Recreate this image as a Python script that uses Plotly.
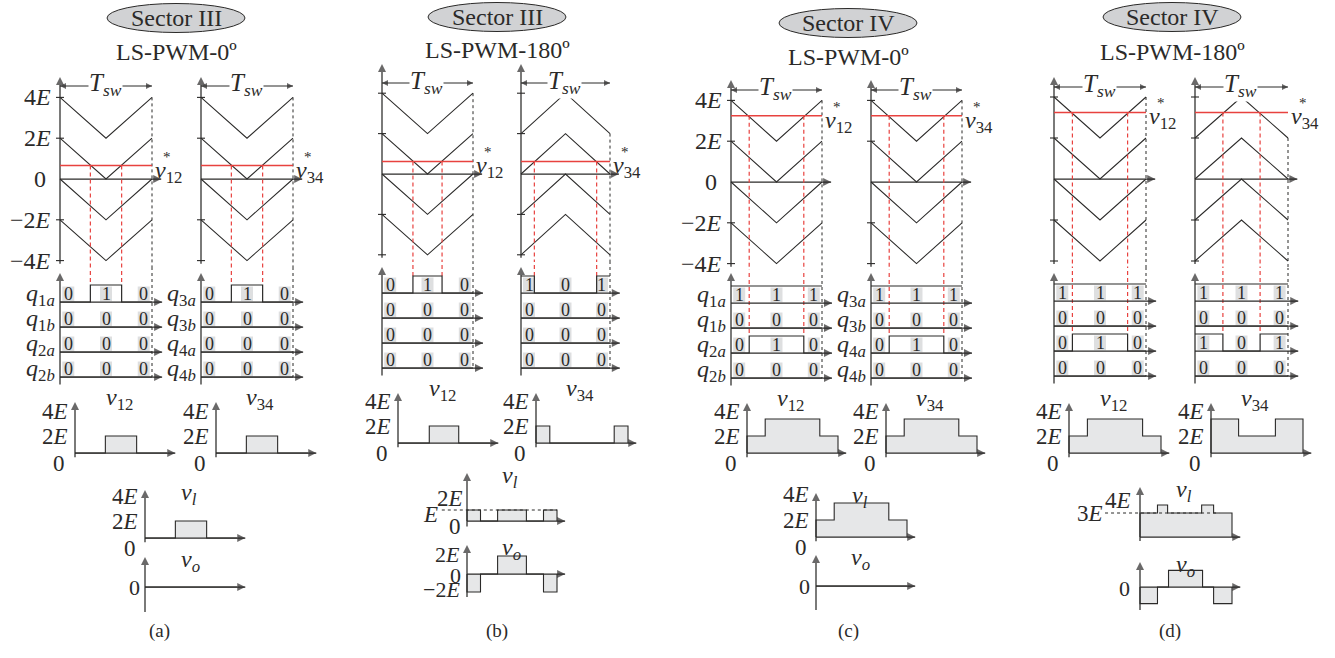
import plotly.graph_objects as go

FIG_W, FIG_H = 1335, 658
SERIF = "Liberation Serif"
INK = "#2b2a29"
RED = "#e8423f"
SHADE = "#e6e7e8"
TAG_BG = "#dedfe0"
ELLIPSE_BG = "#d1d2d4"

# ---------------- waveform data (voltage in units of E, time in units of Tsw) ----------------
case_tags = ["(a)", "(b)", "(c)", "(d)"]
sector_names = ["Sector III", "Sector III", "Sector IV", "Sector IV"]
scheme_names = ["LS-PWM-0º", "LS-PWM-180º", "LS-PWM-0º", "LS-PWM-180º"]

carrier_bands = [[2, 4], [0, 2], [-2, 0], [-4, -2]]
carrier_shift = [[0, 0], [0, 180], [0, 0], [0, 180]]
level_ticks = [4, 2, -2, -4]
level_values = [4, 2, 0, -2, -4]
level_labels = ["4<i>E</i>", "2<i>E</i>", "0", "−2<i>E</i>", "−4<i>E</i>"]

v_ref = [0.66, 0.62, 3.25, 3.25]
edges_12 = [[0.33, 0.67], [0.34, 0.66], [0.2, 0.8], [0.2, 0.8]]
edges_34 = [[0.33, 0.67], [0.15, 0.85], [0.2, 0.8], [0.3, 0.7]]

gates_12 = [
    [[0, 1, 0], [0, 0, 0], [0, 0, 0], [0, 0, 0]],
    [[0, 1, 0], [0, 0, 0], [0, 0, 0], [0, 0, 0]],
    [[1, 1, 1], [0, 0, 0], [0, 1, 0], [0, 0, 0]],
    [[1, 1, 1], [0, 0, 0], [0, 1, 0], [0, 0, 0]],
]
gates_34 = [
    [[0, 1, 0], [0, 0, 0], [0, 0, 0], [0, 0, 0]],
    [[1, 0, 1], [0, 0, 0], [0, 0, 0], [0, 0, 0]],
    [[1, 1, 1], [0, 0, 0], [0, 1, 0], [0, 0, 0]],
    [[1, 1, 1], [0, 0, 0], [1, 0, 1], [0, 0, 0]],
]
gate_names_12 = ["1<i>a</i>", "1<i>b</i>", "2<i>a</i>", "2<i>b</i>"]
gate_names_34 = ["3<i>a</i>", "3<i>b</i>", "4<i>a</i>", "4<i>b</i>"]
digit_at = [0.09, 0.5, 0.91]

v12_levels = [[0, 2, 0], [0, 2, 0], [2, 4, 2], [2, 4, 2]]
v34_levels = [[0, 2, 0], [2, 0, 2], [2, 4, 2], [4, 2, 4]]
out_tick_vals = [4, 2, 0]
out_tick_text = ["4<i>E</i>", "2<i>E</i>", "0"]

vl_times = [[0, 0.33, 0.67, 1], [0, 0.15, 0.34, 0.66, 0.85, 1],
            [0, 0.2, 0.8, 1], [0, 0.19, 0.3, 0.67, 0.8, 1]]
vl_levels = [[0, 2, 0], [1, 0, 1, 0, 1], [2, 4, 2], [3, 4, 3, 4, 3]]
vl_tick_vals = [[4, 2, 0], [2, 1, 0], [4, 2, 0], [4, 3]]
vl_tick_text = [["4<i>E</i>", "2<i>E</i>", "0"], ["2<i>E</i>", "<i>E</i>", "0"],
                ["4<i>E</i>", "2<i>E</i>", "0"], ["4<i>E</i>", "3<i>E</i>"]]
vl_guide = [None, 1, None, 3]

vo_times = [[0, 1], [0, 0.15, 0.34, 0.66, 0.85, 1], [0, 1], [0, 0.19, 0.31, 0.68, 0.8, 1]]
vo_levels = [[0], [-2, 0, 2, 0, -2], [0], [-2, 0, 2, 0, -2]]
vo_tick_vals = [[0], [2, 0, -2], [0], [0]]
vo_tick_text = [["0"], ["2<i>E</i>", "0", "−2<i>E</i>"], ["0"], ["0"]]

# ---------------- layout geometry (pixels) ----------------
carrier_x0 = [[60, 201], [382, 521], [731, 871], [1054, 1195]]
carrier_w = [[92, 92], [91, 89], [91, 91], [92, 93]]
carrier_zero = [179, 174, 182, 179]
carrier_unit = [20.4, 20.2, 20.4, 20.5]
carrier_arrow = [77, 64, 80, 77]
tsw_y = [86, 83, 90, 87]
split_y = [268, 262, 270, 268]
gate_row1 = [302, 293, 303, 301]
gate_arrow = [273, 267, 273, 273]
gate_pitch = 25
gate_high = 0.68

out_x0 = [[75, 216], [398, 536], [747, 886], [1069, 1211]]
out_w = [92, 92, 91, 92]
out_zero = [453, 443, 453, 453]
out_unit = 8.5
out_arrow = [402, 393, 403, 403]
out_shift = [(-5, 8), (-5, 0), (-8, -10)]

vl_x0 = [145, 467, 816, 1140]
vl_w = [92, 90, 91, 92]
vl_zero = [538, 521, 537, 537]
vl_unit = [8.5, 11, 8.5, 8.0]
vl_arrow = [490, 473, 493, 487]
vl_shift = [[(-5, 8), (-5, 0), (-7, -10)], [(-2, 1), (-27, -4), (-4, -5)],
            [(-5, 8), (-5, 0), (-7, -10)], [(-7, 5), (-35, 0)]]
vl_guide_span = [None, (-0.28, 1.0), None, (-0.38, 0.86)]

vo_zero = [587, 574, 586, 587]
vo_unit = [8.5, 9.0, 8.5, 8.3]
vo_arrow = [557, 545, 555, 562]
vo_bottom = [612, 597, 610, 610]
vo_shift = [[(-3, 0)], [(-5, 2), (-4, -1), (-5, 3)], [(-4, 0)], [(-8, -1)]]

title_cx = [176, 497, 848, 1172]
ellipse_cy = [18, 17, 23, 17]
scheme_y = [52, 50, 57, 52]
caption_x = [159, 497, 848, 1170]
caption_y = 631

fig = go.Figure()
axes_layout = {}
shapes = []
axis_counter = [0]


def add_axes(px_l, px_r, px_t, px_b, x_org, x_unit, y_org, y_unit):
    """Create an invisible x/y axis pair whose data units map onto the given pixel box."""
    axis_counter[0] += 1
    k = axis_counter[0]
    s = "" if k == 1 else str(k)
    axes_layout["xaxis" + s] = dict(
        domain=[px_l / FIG_W, px_r / FIG_W],
        range=[(px_l - x_org) / x_unit, (px_r - x_org) / x_unit],
        visible=False, fixedrange=True, anchor="y" + s)
    axes_layout["yaxis" + s] = dict(
        domain=[1 - px_b / FIG_H, 1 - px_t / FIG_H],
        range=[(y_org - px_b) / y_unit, (y_org - px_t) / y_unit],
        visible=False, fixedrange=True, anchor="x" + s)
    return ("x" + s, "y" + s)


def line(ax, xs, ys, color=INK, width=1.1, dash=None):
    fig.add_trace(go.Scatter(
        x=xs, y=ys, xaxis=ax[0], yaxis=ax[1], mode="lines",
        line=dict(color=color, width=width, dash=dash),
        hoverinfo="skip", showlegend=False))


def area(ax, times, levels):
    xs, ys = [times[0]], [0]
    for j, lv in enumerate(levels):
        xs += [times[j], times[j + 1]]
        ys += [lv, lv]
    xs.append(times[-1])
    ys.append(0)
    fig.add_trace(go.Scatter(
        x=xs, y=ys, xaxis=ax[0], yaxis=ax[1], mode="lines", fill="toself",
        fillcolor=SHADE, line=dict(color=INK, width=1.1),
        hoverinfo="skip", showlegend=False))


def arrow(ax, x0, y0, x1, y1, size=8, width=1.25):
    """Axis line ending in a filled arrowhead whose tip sits on (x1, y1)."""
    if x1 > x0:
        sym = "arrow-right"
    elif x1 < x0:
        sym = "arrow-left"
    elif y1 > y0:
        sym = "arrow-up"
    else:
        sym = "arrow-down"
    fig.add_trace(go.Scatter(
        x=[x0, x1], y=[y0, y1], xaxis=ax[0], yaxis=ax[1], mode="lines+markers",
        line=dict(color=INK, width=width),
        marker=dict(symbol=sym, size=[0, size], color=INK, line=dict(width=0)),
        cliponaxis=False, hoverinfo="skip", showlegend=False))


def label(ax, x, y, s, size=22, xanchor="center", yanchor="middle",
          xshift=0, yshift=0, bg=None):
    kw = dict(xref=ax[0], yref=ax[1], x=x, y=y, text=s, showarrow=False,
              font=dict(family=SERIF, size=size, color=INK),
              xanchor=xanchor, yanchor=yanchor, xshift=xshift, yshift=yshift)
    if bg:
        kw.update(bgcolor=bg, borderpad=0)
    fig.add_annotation(**kw)


def carrier_panel(p, side, edges, gates, sub):
    x0, w = carrier_x0[p][side], carrier_w[p][side]
    z, u = carrier_zero[p], carrier_unit[p]
    ax = add_axes(x0 - 14, x0 + w + 14, carrier_arrow[p] - 6, split_y[p], x0, w, z, u)
    y_bottom = (z - split_y[p]) / u
    shift = carrier_shift[p][side]
    for lo, hi in carrier_bands:
        ys = [hi, lo, hi] if shift == 0 else [lo, hi, lo]
        line(ax, [0, 0.5, 1], ys, width=1.05)
    arrow(ax, 0, -4.15, 0, (z - carrier_arrow[p]) / u)
    arrow(ax, 0, 0, 1.1, 0)
    for lv in level_ticks:
        line(ax, [-4 / w, 4 / w], [lv, lv], width=1.1)
    end_level = 4 if shift == 0 else 2
    line(ax, [1, 1], [end_level, y_bottom - 1], width=1, dash="dot")
    vr = v_ref[p]
    line(ax, [0, 1], [vr, vr], color=RED, width=1.5)
    for e in edges:
        line(ax, [e, e], [vr, y_bottom - 1], color=RED, width=1.2, dash="4px,3px")
    # switching period dimension
    ty = (z - tsw_y[p]) / u
    arrow(ax, 0.5, ty, 0, ty, size=6, width=1.0)
    arrow(ax, 0.5, ty, 1, ty, size=6, width=1.0)
    label(ax, 0.49, ty, "<i>T</i><sub><i>sw</i></sub>", size=25, bg="white", yshift=1)
    # reference label v*
    label(ax, 1, vr, "<i>v</i><sub>" + sub + "</sub>", size=24, xanchor="left",
          xshift=1, yshift=-6)
    label(ax, 1, vr, "*", size=15, xanchor="left", xshift=9, yshift=9)
    if side == 0 and p in (0, 2):
        for v, t in zip(level_values, level_labels):
            label(ax, 0, v, t, size=24, xanchor="right", xshift=-12 if v == 0 else -7)

    # gate signals
    r1 = gate_row1[p]
    gx = add_axes(x0 - 14, x0 + w + 14, split_y[p], r1 + 3 * gate_pitch + 12,
                  x0, w, r1, gate_pitch)
    g_top = (r1 - split_y[p]) / gate_pitch
    bounds = [0] + list(edges) + [1]
    line(gx, [1, 1], [g_top + 1, -3], width=1, dash="dot")
    for j, e in enumerate(edges):
        deepest = max(k for k, row in enumerate(gates) if row[j] != row[j + 1])
        line(gx, [e, e], [g_top + 1, -deepest + gate_high], color=RED, width=1.2,
             dash="4px,3px")
    arrow(gx, 0, -3.3, 0, (r1 - gate_arrow[p]) / gate_pitch)
    for k, row in enumerate(gates):
        base = -k
        for j, s in enumerate(row):
            xc = digit_at[j]
            shapes.append(dict(type="rect", xref=gx[0], yref=gx[1], layer="below",
                               x0=xc - 6 / w, x1=xc + 6 / w,
                               y0=base + 0.03, y1=base + 0.62,
                               fillcolor=TAG_BG, line=dict(width=0)))
            label(gx, xc, base + 0.33, str(s), size=18)
        arrow(gx, 0, base, 1.11, base)
        xs, ys = [], []
        for j, s in enumerate(row):
            xs += [bounds[j], bounds[j + 1]]
            ys += [base + gate_high * s] * 2
        line(gx, xs, ys, width=1.2)
        if p in (0, 2):
            names = gate_names_12 if sub == "12" else gate_names_34
            label(gx, 0, base + 0.3, "<i>q</i><sub>" + names[k] + "</sub>", size=24,
                  xanchor="right", xshift=-3)


def output_panel(p, side, levels, sub):
    x0, w = out_x0[p][side], out_w[p]
    z = out_zero[p]
    ax = add_axes(x0 - 10, x0 + w + 14, out_arrow[p] - 6, z + 12, x0, w, z, out_unit)
    edges = edges_12[p] if sub == "12" else edges_34[p]
    area(ax, [0] + list(edges) + [1], levels)
    top = (z - out_arrow[p]) / out_unit
    arrow(ax, 0, -0.5, 0, top)
    arrow(ax, 0, 0, 1.09, 0)
    for v, t, (dx, dy) in zip(out_tick_vals, out_tick_text, out_shift):
        label(ax, 0, v, t, size=23, xanchor="right", xshift=dx, yshift=dy)
    label(ax, 0.48, top, "<i>v</i><sub>" + sub + "</sub>", size=24, yshift=3)


def load_panels(p):
    x0, w = vl_x0[p], vl_w[p]
    z, u = vl_zero[p], vl_unit[p]
    ax = add_axes(x0 - 40, x0 + w + 14, vl_arrow[p] - 6, z + 8, x0, w, z, u)
    area(ax, vl_times[p], vl_levels[p])
    if vl_guide[p] is not None:
        g0, g1 = vl_guide_span[p]
        line(ax, [g0, g1], [vl_guide[p]] * 2, width=1, dash="dot")
    top = (z - vl_arrow[p]) / u
    arrow(ax, 0, -0.5, 0, top)
    arrow(ax, 0, 0, 1.09, 0)
    for v, t, (dx, dy) in zip(vl_tick_vals[p], vl_tick_text[p], vl_shift[p]):
        label(ax, 0, v, t, size=23, xanchor="right", xshift=dx, yshift=dy)
    label(ax, 0.48, top, "<i>v</i><sub><i>l</i></sub>", size=24, yshift=-4)

    z, u = vo_zero[p], vo_unit[p]
    bx = add_axes(x0 - 40, x0 + w + 14, vo_arrow[p] - 6, vo_bottom[p] + 4, x0, w, z, u)
    area(bx, vo_times[p], vo_levels[p])
    top = (z - vo_arrow[p]) / u
    arrow(bx, 0, (z - vo_bottom[p]) / u, 0, top)
    arrow(bx, 0, 0, 1.09, 0)
    for v, t, (dx, dy) in zip(vo_tick_vals[p], vo_tick_text[p], vo_shift[p]):
        label(bx, 0, v, t, size=22, xanchor="right", xshift=dx, yshift=dy)
    label(bx, 0.49, top, "<i>v</i><sub><i>o</i></sub>", size=24, yshift=-4)


for p in range(4):
    carrier_panel(p, 0, edges_12[p], gates_12[p], "12")
    carrier_panel(p, 1, edges_34[p], gates_34[p], "34")
    output_panel(p, 0, v12_levels[p], "12")
    output_panel(p, 1, v34_levels[p], "34")
    load_panels(p)

    cx, cy = title_cx[p], ellipse_cy[p]
    shapes.append(dict(type="circle", xref="paper", yref="paper",
                       x0=(cx - 69) / FIG_W, x1=(cx + 69) / FIG_W,
                       y0=1 - (cy + 14.5) / FIG_H, y1=1 - (cy - 14.5) / FIG_H,
                       fillcolor=ELLIPSE_BG, line=dict(color=INK, width=1)))
    fig.add_annotation(xref="paper", yref="paper", x=cx / FIG_W, y=1 - cy / FIG_H,
                       text=sector_names[p], showarrow=False, xanchor="center",
                       yanchor="middle", font=dict(family=SERIF, size=24, color=INK))
    fig.add_annotation(xref="paper", yref="paper", x=cx / FIG_W, y=1 - scheme_y[p] / FIG_H,
                       text=scheme_names[p], showarrow=False, xanchor="center",
                       yanchor="middle", font=dict(family=SERIF, size=24, color=INK))
    fig.add_annotation(xref="paper", yref="paper", x=caption_x[p] / FIG_W,
                       y=1 - caption_y / FIG_H, text=case_tags[p], showarrow=False,
                       xanchor="center", yanchor="middle",
                       font=dict(family=SERIF, size=19, color=INK))

fig.update_layout(
    width=FIG_W, height=FIG_H, autosize=False,
    margin=dict(l=0, r=0, t=0, b=0),
    font=dict(family=SERIF, color=INK),
    paper_bgcolor="white", plot_bgcolor="rgba(0,0,0,0)",
    showlegend=False, shapes=shapes,
    **axes_layout)

fig.write_html("out.html")
